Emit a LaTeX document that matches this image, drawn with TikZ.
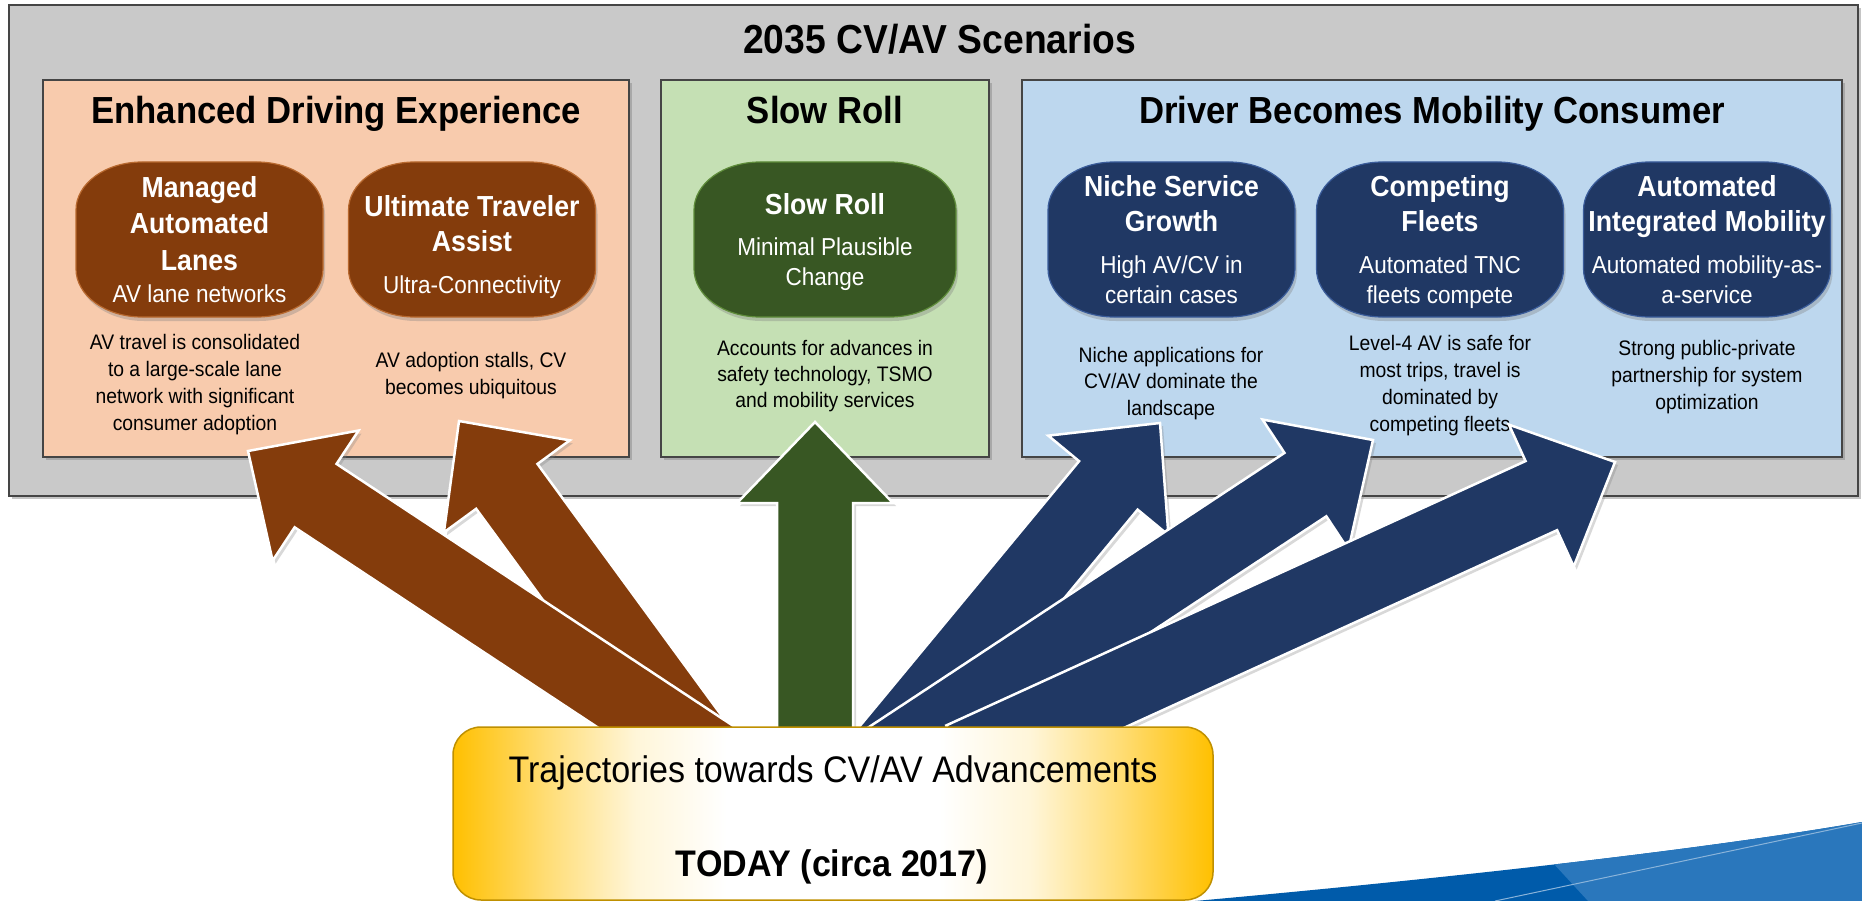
\documentclass[tikz,border=0pt]{standalone}
\usepackage{fontspec}
\setmainfont{Liberation Sans}[FakeStretch=0.92]
\usetikzlibrary{calc,shadows}
\definecolor{bggray}{HTML}{C9C9C9}
\definecolor{edgegray}{HTML}{454545}
\definecolor{peach}{HTML}{F8CBAD}
\definecolor{mint}{HTML}{C5E0B4}
\definecolor{sky}{HTML}{BDD7EE}
\definecolor{rust}{HTML}{843C0C}
\definecolor{rustedge}{HTML}{B8692F}
\definecolor{forest}{HTML}{385723}
\definecolor{forestedge}{HTML}{5E8C3A}
\definecolor{navy}{HTML}{203864}
\definecolor{navyedge}{HTML}{3A5C9A}
\definecolor{gold}{HTML}{FFC000}
\definecolor{goldedge}{HTML}{BF9000}
\definecolor{swdark}{HTML}{005BAA}
\definecolor{swlight}{HTML}{2A77BC}
\pgfdeclarehorizontalshading{yelshade}{100bp}{color(0bp)=(gold); color(25bp)=(gold); color(31bp)=(gold!55!white); color(37bp)=(gold!15!white); color(43bp)=(white); color(57bp)=(white); color(63bp)=(gold!15!white); color(69bp)=(gold!55!white); color(75bp)=(gold); color(100bp)=(gold)}
\tikzset{
  panel/.style={draw=edgegray, line width=1.5pt, inner sep=0pt, outer sep=0pt,
    drop shadow={shadow xshift=3pt, shadow yshift=-3pt, opacity=0.45}},
  pillbox/.style={minimum height=155pt, inner sep=0pt, outer sep=0pt},
  pill/.style={line width=1.2pt, drop shadow={shadow xshift=2pt, shadow yshift=-4pt, opacity=0.35}},
  rustpill/.style={pill, fill=rust, draw=rustedge},
  forestpill/.style={pill, fill=forest, draw=forestedge},
  navypill/.style={pill, fill=navy, draw=navyedge},
  ttl/.style={font=\fontsize{40.5}{48}\selectfont\bfseries, anchor=base, inner sep=0pt},
  sect/.style={font=\fontsize{37.7}{45}\selectfont\bfseries, anchor=base, inner sep=0pt},
  pb/.style={font=\fontsize{29}{35}\selectfont\bfseries, text=white, anchor=base, inner sep=0pt},
  pr/.style={font=\fontsize{24.5}{30}\selectfont, text=white, anchor=base, inner sep=0pt},
  desc/.style={font=\fontsize{21}{26}\selectfont, anchor=base, inner sep=0pt},
  blockarr/.style={draw=white, line width=2.5pt, line join=miter,
    drop shadow={shadow xshift=3pt, shadow yshift=-3pt, opacity=0.3}},
}
\newcommand\txtlines[6]{\foreach \tline [count=\k from 0] in {#6} {\node[#5] (#1\k) at (#2,{#3+\k*#4}) {\tline};}}
\newcommand\blockarrow[3]{%
  \coordinate (hh) at ($(#2)!81pt!(#1)$);
  \filldraw[blockarr, fill=#3]
    ($(#1)!38pt!90:(#2)$) -- ($(hh)!38pt!90:(#2)$) -- ($(hh)!78pt!90:(#2)$) -- (#2)
    -- ($(hh)!78pt!-90:(#2)$) -- ($(hh)!38pt!-90:(#2)$) -- ($(#1)!38pt!-90:(#2)$) -- cycle;}
% #1 name, #2 style, #3 center, #4 width
\newcommand\pillshape[4]{%
  \node[pillbox, minimum width=#4pt] (#1) at (#3) {};
  \filldraw[#2] ($(#1.north west)+(66,0)$) -- ($(#1.north east)+(-66,0)$)
    arc[start angle=-90, end angle=0, x radius=66, y radius=48]
    -- ($(#1.south east)+(0,-48)$)
    arc[start angle=0, end angle=90, x radius=66, y radius=48]
    -- ($(#1.south west)+(66,0)$)
    arc[start angle=90, end angle=180, x radius=66, y radius=48]
    -- ($(#1.north west)+(0,48)$)
    arc[start angle=180, end angle=270, x radius=66, y radius=48] -- cycle;}
\begin{document}
\begin{tikzpicture}[x=1pt,y=-1pt]
\useasboundingbox[fill=white] (0,0) rectangle (1862,901);
% outer panel
\node[panel, fill=bggray, minimum width=1849pt, minimum height=491pt] (scen) at (933.5,250.5) {};
\node[ttl] (title) at (939.5,54) {2035 CV/AV Scenarios};
% scenario panels
\node[panel, fill=peach, minimum width=586pt, minimum height=377pt] (ede) at (336,268.5) {};
\node[panel, fill=mint, minimum width=328pt, minimum height=377pt] (sr) at (825,268.5) {};
\node[panel, fill=sky, minimum width=820pt, minimum height=377pt] (dbm) at (1432,268.5) {};
\node[sect] (edeT) at (336,124) {Enhanced Driving Experience};
\node[sect] (srT) at (825,124) {Slow Roll};
\node[sect] (dbmT) at (1432,124) {Driver Becomes Mobility Consumer};
% pills
\pillshape{ovMAL}{rustpill}{199.5,239.5}{247}
\pillshape{ovUTA}{rustpill}{472,239.5}{247}
\pillshape{ovSR}{forestpill}{825,239.5}{262}
\pillshape{ovNSG}{navypill}{1171.5,239.5}{247}
\pillshape{ovCF}{navypill}{1440,239.5}{247}
\pillshape{ovAIM}{navypill}{1707,239.5}{247}
% pill texts
\txtlines{mal}{199.5}{198}{36}{pb}{Managed,Automated,Lanes}
\node[pr] (mals) at (199.5,302) {AV lane networks};
\txtlines{uta}{472}{217}{35}{pb}{Ultimate Traveler,Assist}
\node[pr] (utas) at (472,293) {Ultra-Connectivity};
\node[pb] (srp) at (825,215) {Slow Roll};
\txtlines{srs}{825}{255}{30}{pr}{Minimal Plausible,Change}
\txtlines{nsg}{1171.5}{197}{35}{pb}{Niche Service,Growth}
\txtlines{nsgs}{1171.5}{273}{30}{pr}{High AV/CV in,certain cases}
\txtlines{cf}{1440}{197}{35}{pb}{Competing,Fleets}
\txtlines{cfs}{1440}{273}{30}{pr}{Automated TNC,fleets compete}
\txtlines{aim}{1707}{197}{35}{pb}{Automated,Integrated Mobility}
\txtlines{aims}{1707}{273}{30}{pr}{Automated mobility-as-,a-service}
% descriptions
\txtlines{dmal}{195}{349}{27}{desc}{AV travel is consolidated,to a large-scale lane,network with significant,consumer adoption}
\txtlines{duta}{471}{367}{27}{desc}{{AV adoption stalls, CV},becomes ubiquitous}
\txtlines{dsr}{825}{355}{26}{desc}{Accounts for advances in,{safety technology, TSMO},and mobility services}
\txtlines{dnsg}{1171}{362}{26.5}{desc}{Niche applications for,CV/AV dominate the,landscape}
\txtlines{dcf}{1440}{350}{27}{desc}{Level-4 AV is safe for,{most trips, travel is},dominated by,competing fleets}
\txtlines{daim}{1707}{355}{27}{desc}{Strong public-private,partnership for system,optimization}
% arrow end points
\coordinate (bA) at (716,760); \coordinate (tA) at (248,451);
\coordinate (bB) at (707,760); \coordinate (tB) at (459,421);
\coordinate (bG) at (815,760); \coordinate (tG) at (815,422);
\coordinate (b1) at (881,760); \coordinate (t1) at (1160,423);
\coordinate (b2) at (888,760); \coordinate (t2) at (1373,440);
\coordinate (b3) at (962,760); \coordinate (t3) at (1615,462);
\blockarrow{bB}{tB}{rust}
\blockarrow{bA}{tA}{rust}
\blockarrow{bG}{tG}{forest}
\blockarrow{b1}{t1}{navy}
\blockarrow{b2}{t2}{navy}
\blockarrow{b3}{t3}{navy}
% template swoosh
\fill[swdark] (1195,901) .. controls (1450,878) and (1700,850) .. (1862,822) -- (1862,901) -- cycle;
\begin{scope}
  \clip (1195,901) .. controls (1450,878) and (1700,850) .. (1862,822) -- (1862,901) -- cycle;
  \fill[swlight] (1541,850) -- (1588,901) -- (1870,901) -- (1870,800) -- cycle;
  \draw[swlight!55!white, line width=1pt] (1495,901) -- (1862,823);
\end{scope}
% today box
\node[draw=goldedge, line width=1.5pt, rounded corners=28pt, minimum width=760pt, minimum height=173pt,
  shade, shading=yelshade, inner sep=0pt] (today) at (833,813.5) {};
\node[font=\fontsize{37}{44}\selectfont, anchor=base, inner sep=0pt] (traj) at (833,782) {Trajectories towards CV/AV Advancements};
\node[font=\fontsize{37}{44}\selectfont\bfseries, anchor=base, inner sep=0pt] (todayT) at (832,876) {TODAY (circa 2017)};
\end{tikzpicture}
\end{document}
